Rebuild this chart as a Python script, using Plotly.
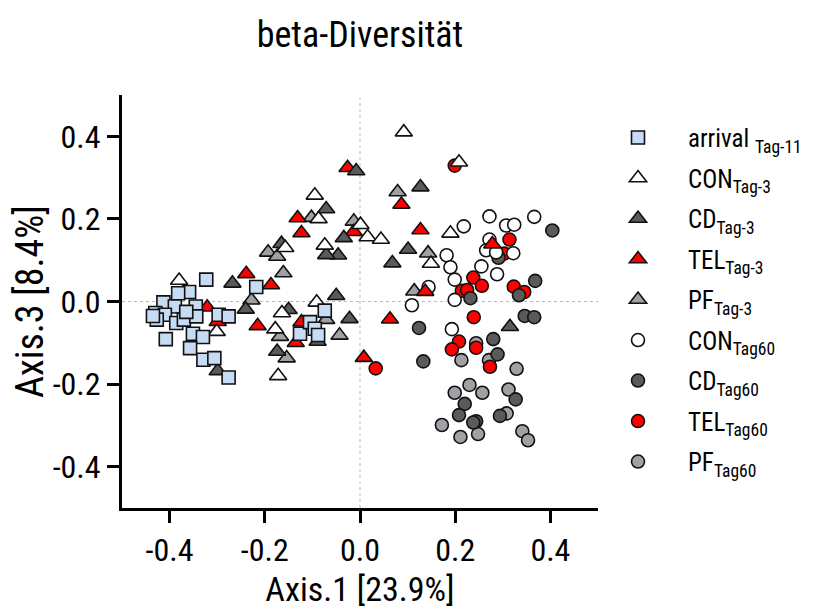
import plotly.graph_objects as go

# ---------------- data ----------------
arrival_x = [-0.323, -0.218, -0.359, -0.382, -0.413, -0.389, -0.345, -0.430, -0.410, -0.427,
             -0.386, -0.370, -0.344, -0.297, -0.276, -0.408, -0.351, -0.330, -0.357, -0.329,
             -0.306, -0.276, -0.126, -0.105, -0.095, -0.074, -0.088, -0.435, -0.365]
arrival_y = [0.053, 0.035, 0.023, 0.020, -0.002, -0.012, -0.012, -0.028, -0.032, -0.044,
             -0.052, -0.044, -0.036, -0.032, -0.036, -0.091, -0.078, -0.086, -0.113, -0.141,
             -0.137, -0.184, -0.078, -0.050, -0.066, -0.022, -0.081, -0.035, -0.025]

con3_x = [-0.380, -0.301, -0.095, -0.087, 0.001, 0.016, 0.044, -0.074, -0.157, -0.091,
          -0.164, -0.178, -0.172, 0.092, 0.208, 0.190, 0.149]
con3_y = [0.051, -0.073, 0.257, 0.200, 0.186, 0.156, 0.150, 0.136, 0.130, -0.002,
          -0.028, -0.067, -0.180, 0.410, 0.337, 0.165, 0.092]

cd3_x = [-0.008, -0.071, -0.034, -0.046, -0.071, -0.165, -0.268, -0.050, -0.240, -0.150,
         -0.022, -0.174, -0.299, -0.089, 0.127, 0.101, 0.068, 0.315]
cd3_y = [0.316, 0.224, 0.154, 0.112, 0.113, 0.140, 0.044, 0.014, -0.019, -0.020,
         -0.042, -0.121, -0.168, -0.097, 0.277, 0.126, 0.093, -0.061]

tel3_x = [-0.026, -0.131, -0.123, -0.013, -0.239, -0.187, -0.321, -0.215, -0.135, -0.123,
          -0.299, 0.008, 0.087, 0.127, 0.137, 0.278, 0.063]
tel3_y = [0.324, 0.202, 0.166, 0.169, 0.067, 0.040, -0.014, -0.059, -0.100, -0.050,
          -0.049, -0.136, 0.235, 0.173, 0.024, 0.139, -0.043]

pf3_x = [-0.193, -0.174, -0.102, -0.013, -0.161, -0.228, -0.168, -0.154, -0.043, -0.071,
         0.079, 0.143, 0.114]
pf3_y = [0.119, 0.109, 0.203, 0.194, 0.069, 0.003, -0.085, -0.137, -0.082, -0.044,
         0.265, 0.117, 0.025]

con60_x = [0.272, 0.218, 0.307, 0.324, 0.366, 0.272, 0.265, 0.286, 0.322, 0.182,
           0.190, 0.255, 0.288, 0.199, 0.144, 0.199, 0.109, 0.193]
con60_y = [0.206, 0.182, 0.184, 0.186, 0.205, 0.150, 0.124, 0.119, 0.117, 0.112,
           0.083, 0.085, 0.066, 0.053, 0.035, 0.004, -0.009, -0.067]

cd60_x = [0.404, 0.368, 0.334, 0.232, 0.291, 0.346, 0.366, 0.124, 0.280, 0.289,
          0.133, 0.220, 0.208, 0.244, 0.238, 0.294, 0.327]
cd60_y = [0.172, 0.050, 0.015, 0.008, 0.106, -0.035, -0.038, -0.064, -0.091, -0.128,
          -0.145, -0.248, -0.275, -0.290, -0.293, -0.277, -0.237]

tel60_x = [0.199, 0.314, 0.303, 0.238, 0.256, 0.214, 0.225, 0.323, 0.345, 0.239,
           0.208, 0.193, 0.244, 0.273, 0.033]
tel60_y = [0.329, 0.150, 0.116, 0.058, 0.038, 0.026, 0.028, 0.036, 0.023, -0.038,
           -0.097, -0.116, -0.112, -0.158, -0.162]

pf60_x = [0.213, 0.329, 0.230, 0.199, 0.257, 0.312, 0.308, 0.172, 0.211, 0.248,
          0.341, 0.353, 0.244, 0.271]
pf60_y = [-0.142, -0.163, -0.202, -0.221, -0.221, -0.213, -0.271, -0.299, -0.328, -0.321,
          -0.314, -0.336, -0.101, -0.142]

x_ticks = [-0.4, -0.2, 0.0, 0.2, 0.4]
y_ticks = [-0.4, -0.2, 0.0, 0.2, 0.4]

FONT = "Liberation Sans Narrow, Arial Narrow, Roboto Condensed, Liberation Sans, Arial, sans-serif"
EDGE = "#111111"

# (name, x, y, symbol, color, legend rank) in drawing order
series = [
    ("PF<sub>Tag60</sub>", pf60_x, pf60_y, "circle", "#A0A0A6", 9),
    ("TEL<sub>Tag60</sub>", tel60_x, tel60_y, "circle", "#FF0000", 8),
    ("CD<sub>Tag60</sub>", cd60_x, cd60_y, "circle", "#5A5A5A", 7),
    ("CON<sub>Tag60</sub>", con60_x, con60_y, "circle", "#FFFFFF", 6),
    ("PF<sub>Tag-3</sub>", pf3_x, pf3_y, "triangle-up", "#A0A0A6", 5),
    ("TEL<sub>Tag-3</sub>", tel3_x, tel3_y, "triangle-up", "#FF0000", 4),
    ("CD<sub>Tag-3</sub>", cd3_x, cd3_y, "triangle-up", "#5A5A5A", 3),
    ("CON<sub>Tag-3</sub>", con3_x, con3_y, "triangle-up", "#FFFFFF", 2),
    ("arrival <sub>Tag-11</sub>", arrival_x, arrival_y, "square", "#C6DCF5", 1),
]

fig = go.Figure()
for name, xs, ys, sym, col, rank in series:
    size = 13 if sym != "triangle-up" else 15
    fig.add_trace(go.Scatter(
        x=xs, y=ys, mode="markers", name=name, legendrank=rank,
        legendgroup=name,
        marker=dict(symbol=sym, size=size, color=col, line=dict(color=EDGE, width=1.6)),
    ))

# dotted zero reference lines
fig.add_shape(type="line", xref="x", yref="y", x0=0, x1=0, y0=-0.5, y1=0.5,
              line=dict(color="#BBBBBB", width=1, dash="dot"), layer="below")
fig.add_shape(type="line", xref="x", yref="y", x0=-0.5, x1=0.5, y0=0, y1=0,
              line=dict(color="#BBBBBB", width=1, dash="dot"), layer="below")

axis_common = dict(
    showgrid=False, zeroline=False, showline=True, linecolor="black", linewidth=3,
    ticks="outside", ticklen=12, tickwidth=3, tickcolor="black",
    tickfont=dict(family=FONT, size=32, color="black"),
)

W, H = 811, 606  # page body adds an 8px margin in the 819x614 window
fig.update_layout(
    width=W, height=H,
    paper_bgcolor="white", plot_bgcolor="white",
    margin=dict(l=110, r=219, t=87, b=106),
    font=dict(family=FONT, color="black"),
    title=dict(text="beta-Diversität", x=352 / W, xanchor="center",
               y=1 - 26 / H, yanchor="middle", font=dict(family=FONT, size=36, color="black")),
    xaxis=dict(range=[-0.5, 0.5], tickvals=x_ticks, ticktext=[f"{v:.1f}" for v in x_ticks],
               title=dict(text="Axis.1 [23.9%]", font=dict(family=FONT, size=34), standoff=8),
               **axis_common),
    yaxis=dict(range=[-0.5, 0.5], tickvals=y_ticks, ticktext=[f"{v:.1f}" for v in y_ticks],
               title=dict(text="Axis.3 [8.4%]", font=dict(family=FONT, size=38), standoff=6),
               **axis_common),
    legend=dict(x=0.979, xanchor="left", y=0.952, yanchor="top",
                font=dict(family=FONT, size=25, color="black"),
                tracegroupgap=5, itemwidth=90, bgcolor="rgba(0,0,0,0)"),
    showlegend=True,
)

fig.write_html("out.html")
